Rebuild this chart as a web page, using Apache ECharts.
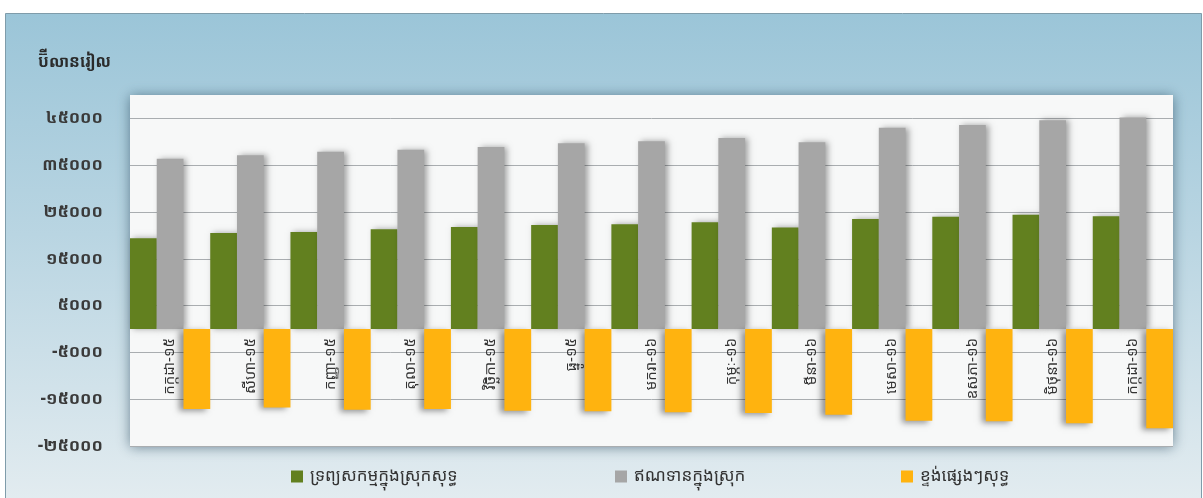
<!DOCTYPE html>
<html>
<head>
<meta charset="utf-8">
<title>ប៊ីលានរៀល</title>
<script src="https://cdn.jsdelivr.net/npm/echarts@6/dist/echarts.min.js"></script>
<style>
    html, body {
        margin: 0;
        padding: 0;
        background: #ffffff;
    }

    #chart {
        width: 1203px;
        height: 498px;
    }
</style>
</head>
<body>
<div id="chart"></div>
<script>
// ខែ (categories)
const months = ['កក្កដា-១៥', 'សីហា-១៥', 'កញ្ញា-១៥', 'តុលា-១៥', 'វិច្ឆិកា-១៥', 'ធ្នូ-១៥',
    'មករា-១៦', 'កុម្ភៈ-១៦', 'មីនា-១៦', 'មេសា-១៦', 'ឧសភា-១៦', 'មិថុនា-១៦', 'កក្កដា-១៦'];

const seriesNames = ['ទ្រព្យសកម្មក្នុងស្រុកសុទ្ធ', 'ឥណទានក្នុងស្រុក', 'ខ្ទង់ផ្សេងៗសុទ្ធ'];

// values (billion riel)
const netDomesticAssets = [19400, 20500, 20700, 21300, 21800, 22200, 22400, 22800, 21700, 23500, 24000, 24400, 24100];
const domesticCredit = [36400, 37100, 37900, 38300, 38900, 39700, 40100, 40800, 39900, 43000, 43600, 44600, 45200];
const otherItemsNet = [-17100, -16750, -17250, -17100, -17450, -17600, -17800, -17950, -18300, -19600, -19700, -20150, -21200];

// y axis ticks
const yMin = -25000;
const yMax = 50000;
const yStep = 10000;
const khmerDigits = ['០', '១', '២', '៣', '៤', '៥', '៦', '៧', '៨', '៩'];

const colors = ['#62801f', '#a6a6a6', '#ffb30f'];
const fontKm = "'Noto Sans Khmer', 'Khmer OS', 'Khmer OS System', 'Noto Sans', 'DejaVu Sans', sans-serif";

function toKhmer(v) {
    return String(v).replace(/[0-9]/g, d => khmerDigits[+d]);
}

let mychart = echarts.init(document.getElementById('chart'));

let barShadow = {
    shadowBlur: 6,
    shadowColor: 'rgba(0, 0, 0, 0.35)',
    shadowOffsetX: 3,
    shadowOffsetY: 0
};

let legendBase = {
    top: 463,
    itemWidth: 12,
    itemHeight: 12,
    icon: 'rect',
    selectedMode: false,
    textStyle: {
        fontFamily: fontKm,
        fontSize: 17,
        color: '#333333',
        padding: [0, 0, 0, 2]
    }
};

let option = {
    animation: false,
    color: colors,
    textStyle: {
        fontFamily: fontKm
    },
    graphic: [
        {
            type: 'rect',
            z: -10,
            shape: { x: 5.5, y: 13.5, width: 1196, height: 490 },
            style: {
                fill: new echarts.graphic.LinearGradient(0, 0, 0, 1, [
                    { offset: 0, color: '#9bc5d8' },
                    { offset: 0.45, color: '#b9d5e2' },
                    { offset: 1, color: '#e3ecf0' }
                ]),
                stroke: '#7f9caa',
                lineWidth: 1
            }
        }
    ],
    title: {
        text: 'ប៊ីលានរៀល',
        left: 33,
        top: 49,
        textStyle: {
            fontFamily: fontKm,
            fontSize: 16,
            fontWeight: 'bold',
            color: '#2b2b2b'
        }
    },
    legend: [
        Object.assign({}, legendBase, { left: 286, data: [seriesNames[0]] }),
        Object.assign({}, legendBase, { left: 610, data: [seriesNames[1]] }),
        Object.assign({}, legendBase, { left: 896, data: [seriesNames[2]] })
    ],
    grid: {
        left: 130,
        right: 30,
        top: 95,
        bottom: 52,
        containLabel: false,
        outerBoundsMode: 'none',
        show: true,
        backgroundColor: '#f7f8f8',
        borderWidth: 0,
        shadowBlur: 12,
        shadowColor: 'rgba(45, 75, 95, 0.65)',
        shadowOffsetX: 0,
        shadowOffsetY: 1
    },
    xAxis: {
        type: 'category',
        data: months,
        axisLine: { show: false },
        axisTick: { show: false },
        // month names are drawn under the zero line by the grey series below
        axisLabel: { show: false }
    },
    yAxis: {
        type: 'value',
        min: yMin,
        max: yMax,
        interval: yStep,
        axisLine: { show: false },
        axisTick: { show: false },
        axisLabel: {
            margin: 27,
            fontFamily: fontKm,
            fontSize: 17,
            fontWeight: 'bold',
            color: '#3a3a3a',
            showMaxLabel: false,
            formatter: function (v) {
                return v === yMax ? '' : toKhmer(v);
            }
        },
        splitLine: {
            showMaxLine: false,
            lineStyle: { color: '#a9adb0', width: 1 }
        }
    },
    series: [
        {
            name: seriesNames[0],
            type: 'bar',
            data: netDomesticAssets,
            barGap: '0%',
            barCategoryGap: '0%',
            itemStyle: barShadow
        },
        {
            name: seriesNames[1],
            type: 'bar',
            data: domesticCredit,
            barGap: '0%',
            barCategoryGap: '0%',
            itemStyle: barShadow,
            label: {
                show: true,
                position: 'bottom',
                distance: 9,
                rotate: 90,
                align: 'right',
                verticalAlign: 'middle',
                formatter: '{b}',
                fontFamily: fontKm,
                fontSize: 15,
                color: '#333333'
            }
        },
        {
            name: seriesNames[2],
            type: 'bar',
            data: otherItemsNet,
            barGap: '0%',
            barCategoryGap: '0%',
            itemStyle: {
                shadowBlur: 6,
                shadowColor: 'rgba(0, 0, 0, 0.4)',
                shadowOffsetX: -4,
                shadowOffsetY: 2
            }
        }
    ]
};

mychart.setOption(option);
</script>
</body>
</html>
